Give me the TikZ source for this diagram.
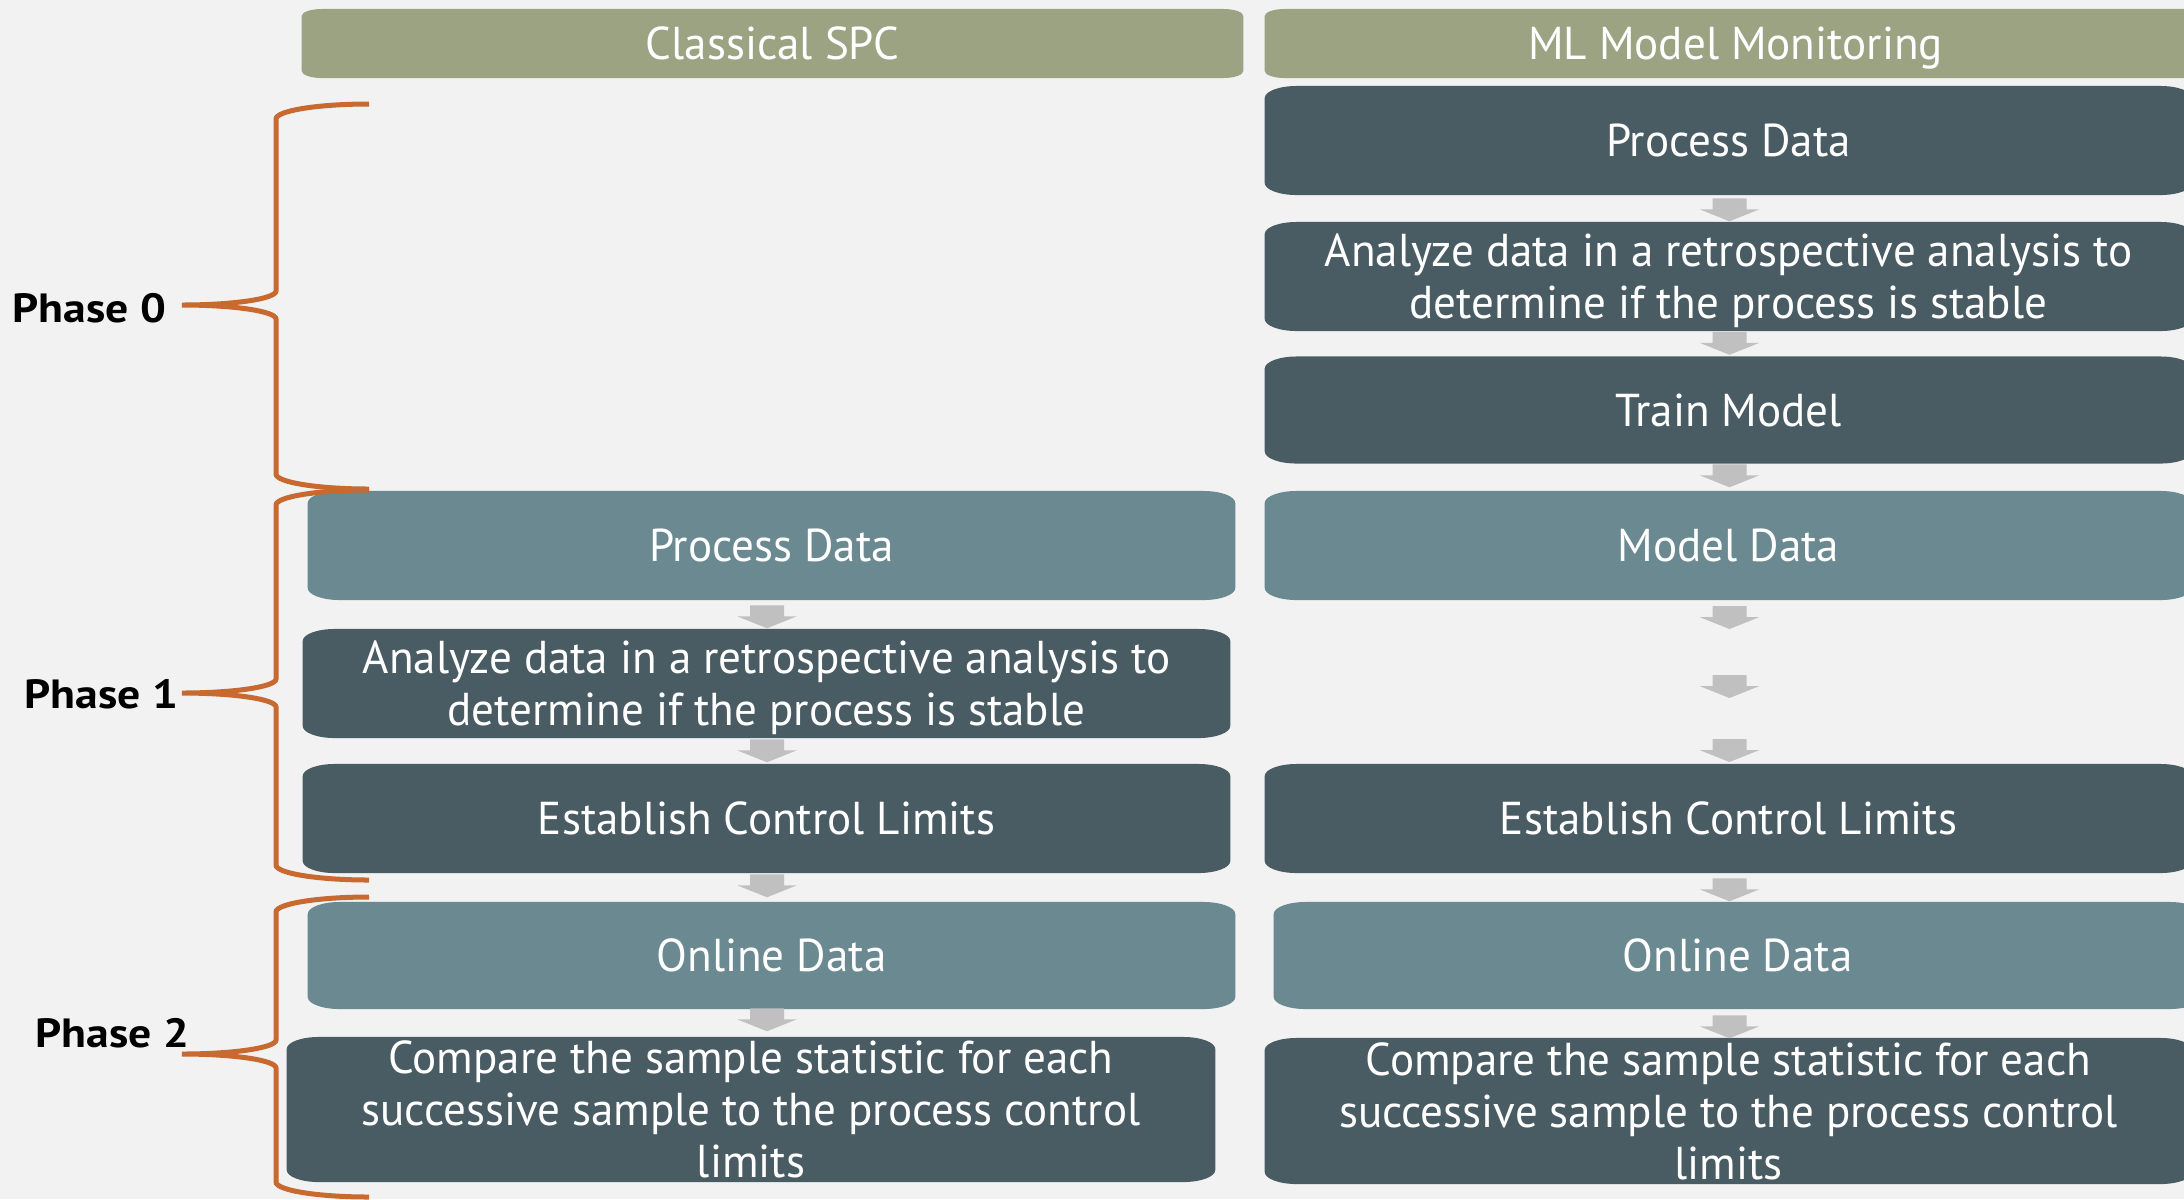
\documentclass[tikz,border=0pt]{standalone}
\usepackage{fontspec}
\setmainfont{PT Sans}
\newfontfamily\gillish[FakeStretch=0.978]{PT Sans}
\newfontfamily\gillishbold[FakeStretch=1.12]{PT Sans Bold}
\usetikzlibrary{calc}

\definecolor{pagebg}{HTML}{F2F2F2}
\definecolor{headolive}{HTML}{9CA383}
\definecolor{stepdark}{HTML}{4A5C63}
\definecolor{steplight}{HTML}{6B8990}
\definecolor{flowgrey}{HTML}{C0C0C0}
\definecolor{braceorange}{HTML}{C8692F}

\newcommand\stepfont{\gillish\fontsize{13.1pt}{14.8pt}\selectfont}
\newcommand\phasefont{\gillishbold\fontsize{11.6pt}{13pt}\selectfont}

\tikzset{
  % rectangle with flat elliptical corners: colour, x radius, y radius
  ovalbox/.style n args={3}{path picture={
    \fill[#1] let \p1=(path picture bounding box.south west),
                  \p2=(path picture bounding box.north east) in
      (\x1+#2,\y1) -- (\x2-#2,\y1)
      arc[start angle=-90,end angle=0,x radius=#2,y radius=#3]
      -- (\x2,\y2-#3)
      arc[start angle=0,end angle=90,x radius=#2,y radius=#3]
      -- (\x1+#2,\y2)
      arc[start angle=90,end angle=180,x radius=#2,y radius=#3]
      -- (\x1,\y1+#3)
      arc[start angle=180,end angle=270,x radius=#2,y radius=#3]
      -- cycle;}},
  colhead/.style={ovalbox={headolive}{0.2cm}{0.07cm},
    minimum width=9.41cm, minimum height=0.69cm, inner sep=0pt,
    text depth=0pt, text=white, font=\stepfont},
  darkstep/.style={ovalbox={stepdark}{0.32cm}{0.12cm},
    minimum width=9.27cm, minimum height=1.09cm, inner sep=0pt,
    text depth=0pt, text=white, font=\stepfont, align=center},
  lightstep/.style={ovalbox={steplight}{0.32cm}{0.12cm},
    minimum width=9.27cm, minimum height=1.09cm, inner sep=0pt,
    text depth=0pt, text=white, font=\stepfont, align=center},
  threeline/.style={minimum height=1.45cm, text depth=-0.06cm},
  phaselabel/.style={font=\phasefont, text=black, inner sep=0pt, anchor=west},
  bracestroke/.style={draw=braceorange, line width=0.05cm},
  flowarrow/.pic={\fill[flowgrey] (0,0) -- (30,12) -- (17,12) -- (17,23)
      -- (-17,23) -- (-17,12) -- (-30,12) -- cycle;}
}

% curly brace: top, middle and bottom (pixels, downward)
\newcommand\phasebrace[3]{%
  \draw[bracestroke] (369,-#1)
    arc[start angle=90,end angle=180,x radius=93,y radius=15]
    -- (276,-#2+14)
    arc[start angle=0,end angle=-90,x radius=94,y radius=14]
    arc[start angle=90,end angle=0,x radius=94,y radius=14]
    -- (276,-#3+15)
    arc[start angle=180,end angle=270,x radius=93,y radius=15];}

\begin{document}
\begin{tikzpicture}[x=0.01cm,y=0.01cm]
\useasboundingbox (0,0) rectangle (2184,-1199);
\fill[pagebg] (0,0) rectangle (2184,-1199);

% column headers
\node[colhead] (H1) at (772.5,-43.5) {Classical SPC};
\node[colhead] (H2) at (1735.5,-43.5) {ML Model Monitoring};

% classical SPC column
\node[lightstep] (L1) at (771.5,-545.5) {Process Data};
\node[darkstep] (L2) at (766.5,-683.5) {Analyze data in a retrospective analysis to\\determine if the process is stable};
\node[darkstep] (L3) at (766.5,-818.5) {Establish Control Limits};
\node[lightstep, minimum height=1.07cm] (L4) at (771.5,-955.5) {Online Data};
\node[darkstep, threeline, minimum width=9.28cm] (L5) at (751,-1109.5) {Compare the sample statistic for each\\successive sample to the process control\\limits};

% ML model monitoring column
\node[darkstep] (R1) at (1728.5,-140.5) {Process Data};
\node[darkstep] (R2) at (1728.5,-276.5) {Analyze data in a retrospective analysis to\\determine if the process is stable};
\node[darkstep, minimum height=1.07cm] (R3) at (1728.5,-410) {Train Model};
\node[lightstep] (R4) at (1728.5,-545.5) {Model Data};
\node[darkstep] (R5) at (1728.5,-818.5) {Establish Control Limits};
\node[lightstep, minimum height=1.07cm] (R6) at (1737.5,-955.5) {Online Data};
\node[darkstep, threeline, minimum height=1.46cm] (R7) at (1728.5,-1111) {Compare the sample statistic for each\\successive sample to the process control\\limits};

% flow arrows, placed by their tips
\coordinate (colL) at (767,0);
\coordinate (colR) at (1729.5,0);
\pic at (L2.north -| colL) {flowarrow};
\pic at ($(L3.north -| colL)+(0,1)$) {flowarrow};
\pic at ($(L4.north -| colL)+(0,4)$) {flowarrow};
\pic at ($(L5.north -| colL)+(0,5)$) {flowarrow};

\pic at (R2.north -| colR) {flowarrow};
\pic at ($(R3.north -| colR)+(0,1)$) {flowarrow};
\pic at ($(R4.north -| colR)+(0,3)$) {flowarrow};
\coordinate (g1) at (1729.5,-629);
\coordinate (g2) at (1729.5,-698);
\coordinate (g3) at (1729.5,-762);
\pic at (g1) {flowarrow};
\pic at (g2) {flowarrow};
\pic at (g3) {flowarrow};
\pic at (R6.north -| colR) {flowarrow};
\pic at ($(R7.north -| colR)+(0,-1)$) {flowarrow};

% phase braces and labels
\phasebrace{104}{305}{489}
\phasebrace{490}{693}{880}
\phasebrace{897}{1054}{1197}
\node[phaselabel] (P0) at (12,-308) {Phase 0};
\node[phaselabel] (P1) at (24,-694) {Phase 1};
\node[phaselabel] (P2) at (35,-1033) {Phase 2};
\end{tikzpicture}
\end{document}
